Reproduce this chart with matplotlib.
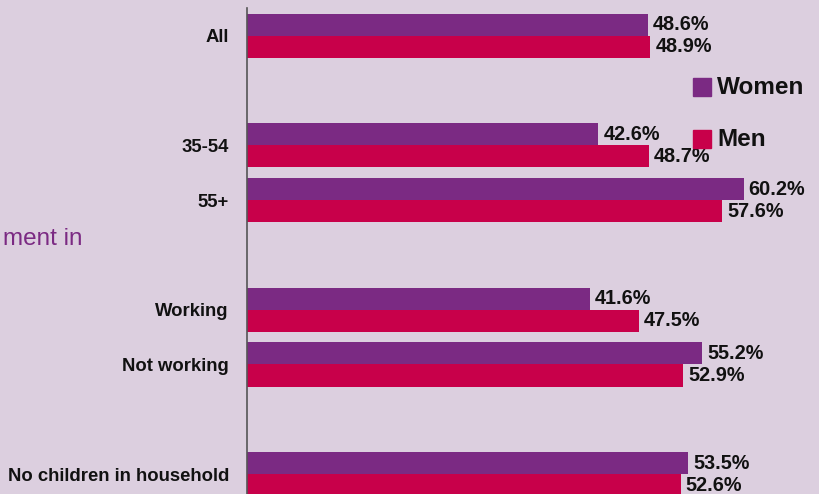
import matplotlib
matplotlib.use("Agg")
import matplotlib.pyplot as plt
from matplotlib import font_manager as fm
from matplotlib.patches import Rectangle

categories = ["All", "35-54", "55+", "Working", "Not working", "No children in household"]
positions = [0, 2, 3, 5, 6, 8]
women = [48.6, 42.6, 60.2, 41.6, 55.2, 53.5]
men = [48.9, 48.7, 57.6, 47.5, 52.9, 52.6]
series_names = ["Women", "Men"]

BG = "#dccfdf"
C_WOMEN = "#7b2a83"
C_MEN = "#c8004a"

names = {f.name for f in fm.fontManager.ttflist}
fam = ["Liberation Sans Narrow", "DejaVu Sans"] if "Liberation Sans Narrow" in names else ["Liberation Sans", "DejaVu Sans"]
plt.rcParams["font.family"] = fam

W, H = 820, 494
fig = plt.figure(figsize=(W / 100, H / 100), dpi=100, facecolor=BG)
ax = fig.add_axes([247 / W, 0, 1 - 247 / W, 486 / H])
ax.set_facecolor(BG)

bh = 0.402
ax.barh([p - bh / 2 for p in positions], women, height=bh, color=C_WOMEN, label=series_names[0])
ax.barh([p + bh / 2 for p in positions], men, height=bh, color=C_MEN, label=series_names[1])

for p, w, m in zip(positions, women, men):
    ax.annotate(f"{w:.1f}%", (w, p - bh / 2), xytext=(3.5, 0), textcoords="offset points",
                va="center", ha="left", fontsize=14.3, fontweight="bold", color="#111111")
    ax.annotate(f"{m:.1f}%", (m, p + bh / 2), xytext=(3.5, 0), textcoords="offset points",
                va="center", ha="left", fontsize=14.3, fontweight="bold", color="#111111")

ax.set_xlim(0, (W - 247) / 8.25)
ax.set_ylim(8.365, -0.51)
ax.set_yticks(positions)
ax.set_yticklabels(categories, fontsize=13.3, fontweight="bold", color="#111111")
ax.tick_params(axis="y", length=0, pad=13)
ax.set_xticks([])
for s in ["top", "right", "bottom"]:
    ax.spines[s].set_visible(False)
ax.spines["left"].set_color("#555555")
ax.spines["left"].set_linewidth(1.2)

# legend
for i, (name, col) in enumerate(zip(series_names, [C_WOMEN, C_MEN])):
    y0 = 78 + i * 52
    fig.patches.append(Rectangle((693 / W, 1 - (y0 + 18) / H), 18 / W, 18 / H,
                                 transform=fig.transFigure, color=col))
    fig.text(717 / W, 1 - (y0 + 9) / H, name, fontsize=17.5, fontweight="bold",
             va="center", ha="left", color="#111111")

fig.text(3 / W, 1 - 239 / H, "ment in", fontsize=17.5, color=C_WOMEN,
         va="center", ha="left")

fig.savefig("out.png", dpi=100, facecolor=BG)
